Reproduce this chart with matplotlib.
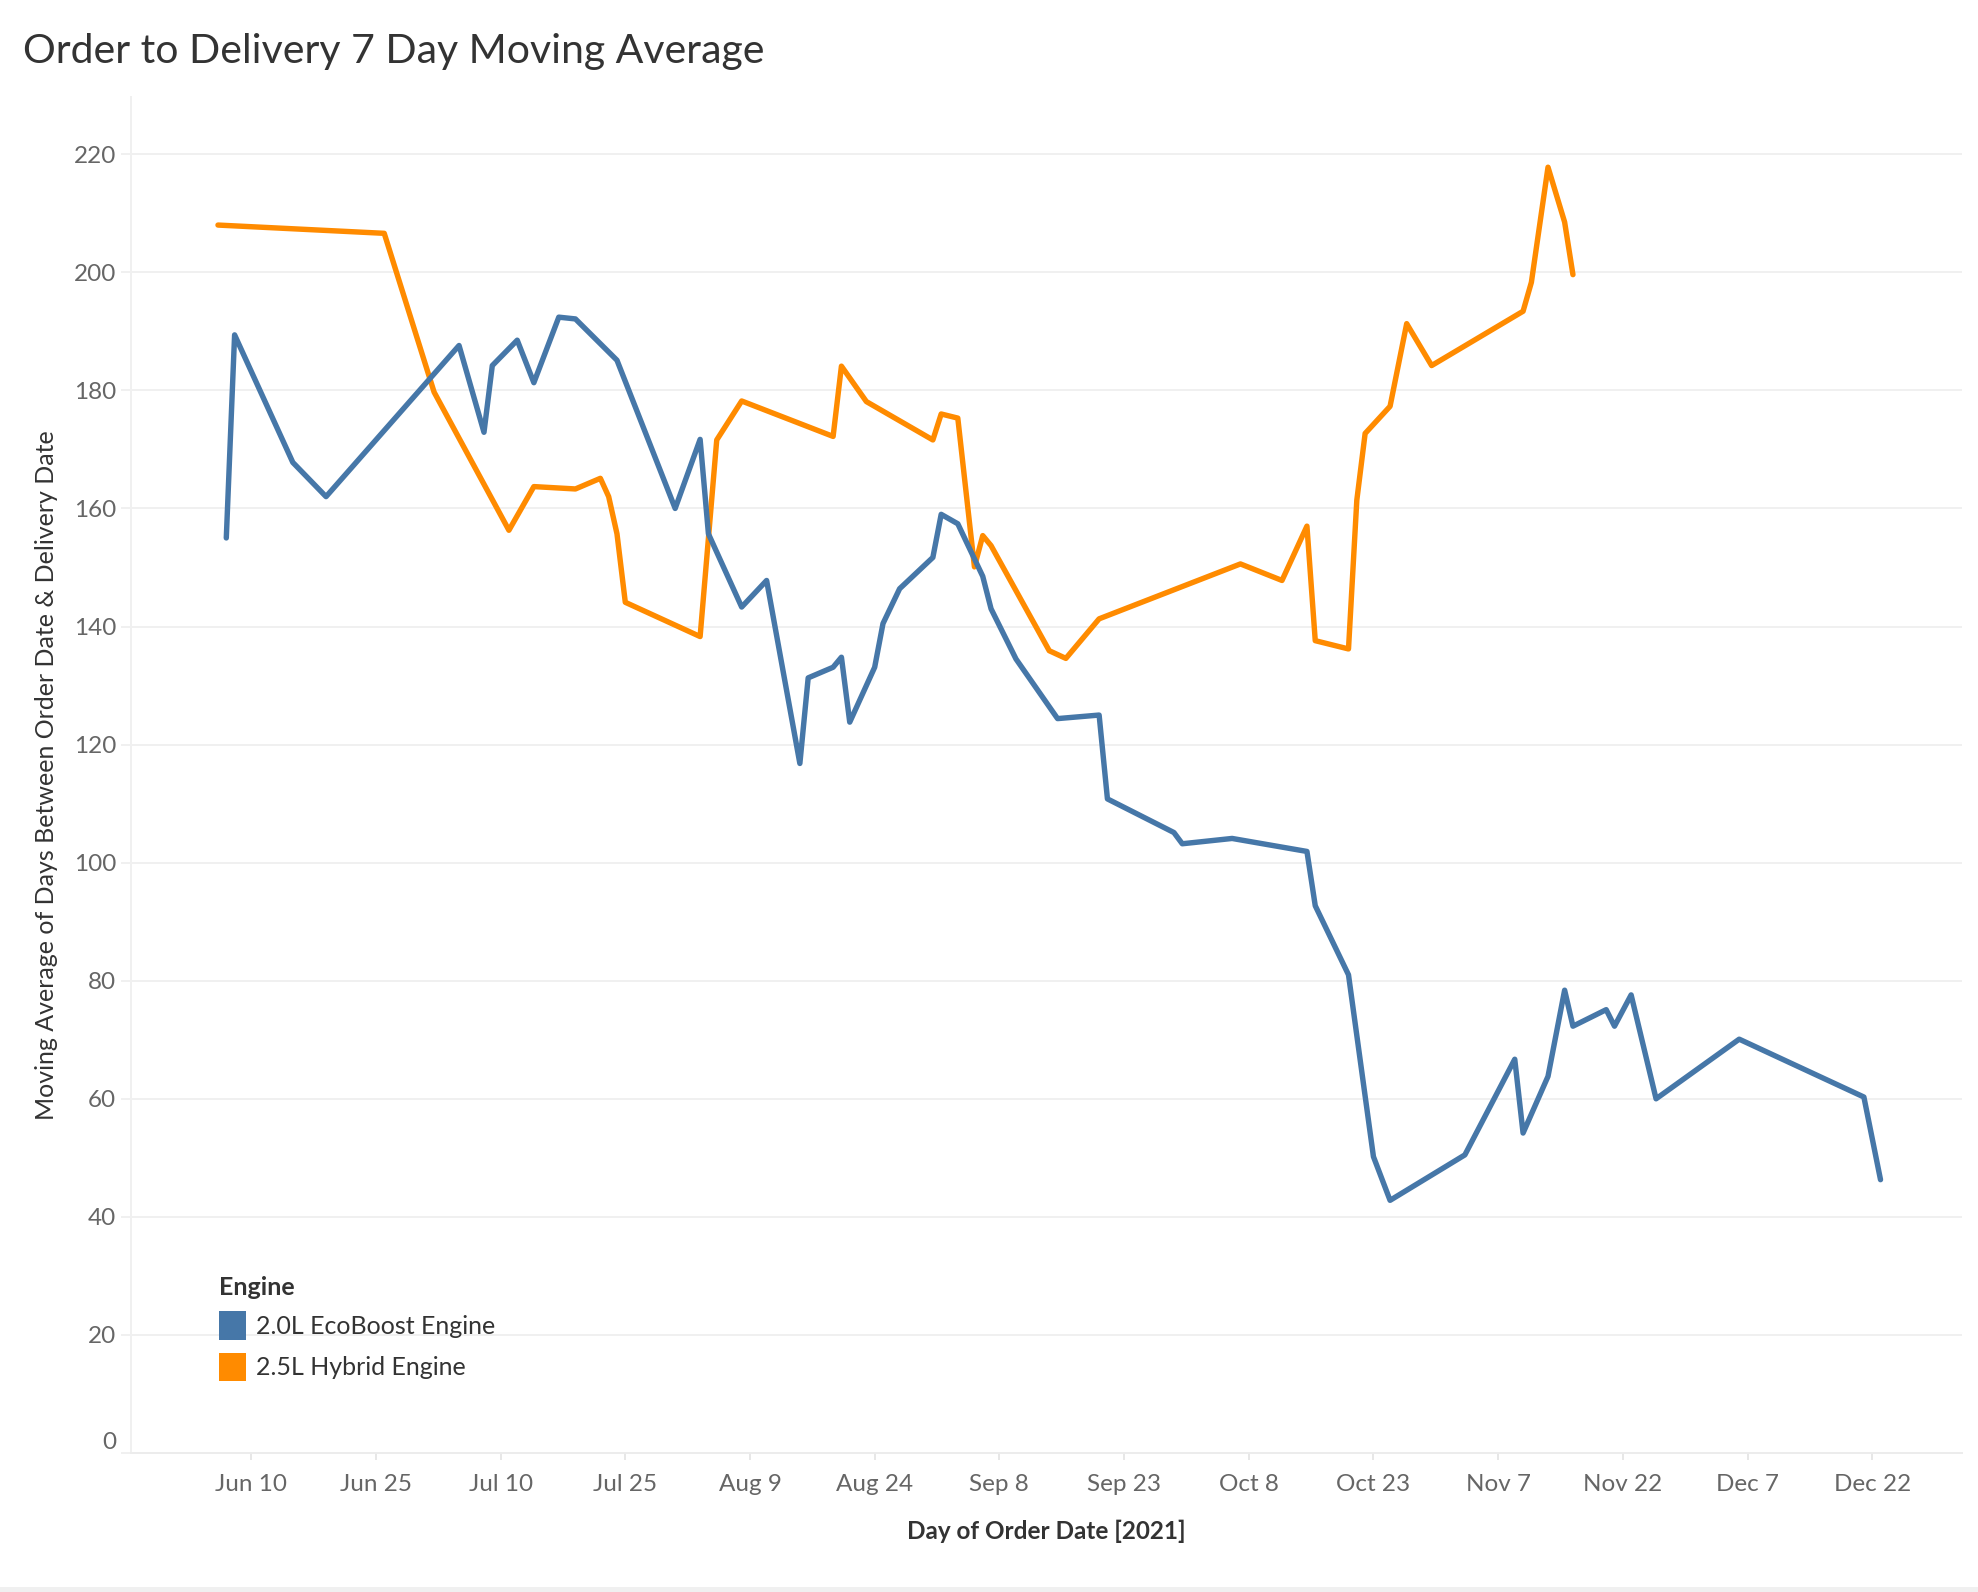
import matplotlib
matplotlib.use('Agg')
import matplotlib.pyplot as plt
import matplotlib.dates as mdates
from matplotlib.patches import Patch, Rectangle
import pandas as pd

plt.rcParams['font.family'] = ['Lato', 'DejaVu Sans']

# 7 day moving average
eco_dates = ['2021-06-07', '2021-06-08', '2021-06-15', '2021-06-19', '2021-07-05', '2021-07-08',
             '2021-07-09', '2021-07-12', '2021-07-14', '2021-07-17', '2021-07-19', '2021-07-24',
             '2021-07-31', '2021-08-03', '2021-08-04', '2021-08-08', '2021-08-11', '2021-08-15',
             '2021-08-16', '2021-08-19', '2021-08-20', '2021-08-21', '2021-08-24', '2021-08-25',
             '2021-08-27', '2021-08-31', '2021-09-01', '2021-09-03', '2021-09-06', '2021-09-07',
             '2021-09-10', '2021-09-15', '2021-09-20', '2021-09-21', '2021-09-29', '2021-09-30',
             '2021-10-06', '2021-10-15', '2021-10-16', '2021-10-20', '2021-10-23', '2021-10-25',
             '2021-11-03', '2021-11-09', '2021-11-10', '2021-11-13', '2021-11-15', '2021-11-16',
             '2021-11-20', '2021-11-21', '2021-11-23', '2021-11-26', '2021-12-06', '2021-12-21',
             '2021-12-23']
eco_values = [155.0, 189.4, 167.8, 162.0, 187.6, 172.9,
              184.2, 188.5, 181.3, 192.4, 192.1, 185.1,
              160.0, 171.7, 155.7, 143.3, 147.8, 116.8,
              131.3, 133.1, 134.8, 123.8, 133.1, 140.5,
              146.4, 151.7, 159.0, 157.4, 148.5, 143.0,
              134.5, 124.4, 125.0, 110.8, 105.1, 103.2,
              104.1, 101.9, 92.7, 81.0, 50.2, 42.8,
              50.5, 66.7, 54.2, 63.8, 78.4, 72.3,
              75.1, 72.3, 77.6, 60.0, 70.1, 60.3,
              46.3]

hyb_dates = ['2021-06-06', '2021-06-26', '2021-07-02', '2021-07-11', '2021-07-14', '2021-07-19',
             '2021-07-22', '2021-07-23', '2021-07-24', '2021-07-25', '2021-08-03', '2021-08-05',
             '2021-08-08', '2021-08-19', '2021-08-20', '2021-08-23', '2021-08-31', '2021-09-01',
             '2021-09-03', '2021-09-05', '2021-09-06', '2021-09-07', '2021-09-14', '2021-09-16',
             '2021-09-20', '2021-10-07', '2021-10-12', '2021-10-15', '2021-10-16', '2021-10-20',
             '2021-10-21', '2021-10-22', '2021-10-25', '2021-10-27', '2021-10-30', '2021-11-10',
             '2021-11-11', '2021-11-13', '2021-11-15', '2021-11-16']
hyb_values = [208.0, 206.6, 179.7, 156.3, 163.7, 163.3,
              165.1, 162.0, 155.7, 144.1, 138.3, 171.6,
              178.2, 172.2, 184.1, 178.1, 171.6, 176.0,
              175.3, 150.1, 155.4, 153.7, 135.9, 134.6,
              141.3, 150.6, 147.8, 157.0, 137.6, 136.2,
              161.4, 172.7, 177.3, 191.3, 184.2, 193.4,
              198.3, 217.8, 208.5, 199.6]

series_names = ['2.0L EcoBoost Engine', '2.5L Hybrid Engine']
series_colors = ['#4677a8', '#ff8b00']
y_ticks = list(range(0, 221, 20))
x_ticks = pd.date_range('2021-06-10', periods=14, freq='15D')

fig = plt.figure(figsize=(19.78, 15.92), dpi=100)
ax = fig.add_axes([0.0662, 0.0873, 0.9257, 0.8518])

ax.plot(pd.to_datetime(hyb_dates), hyb_values, color=series_colors[1], lw=3.9,
        solid_joinstyle='round', solid_capstyle='round', zorder=3)
ax.plot(pd.to_datetime(eco_dates), eco_values, color=series_colors[0], lw=3.9,
        solid_joinstyle='round', solid_capstyle='round', zorder=4)

# axes ranges
jun10 = mdates.date2num(pd.Timestamp('2021-06-10'))
ax.set_xlim(jun10 - 14.47, jun10 + 205.8)
ax.set_ylim(0, 229.7)

ax.set_yticks(y_ticks)
ax.set_xticks(x_ticks)
ax.set_xticklabels([f"{d:%b} {d.day}" for d in x_ticks])

ax.grid(axis='y', color='#f0f0f0', lw=1.4, zorder=0)
ax.set_axisbelow(True)
for s in ['top', 'right']:
    ax.spines[s].set_visible(False)
ax.spines['left'].set_color('#f0f0f0')
ax.spines['left'].set_linewidth(1.4)
ax.spines['bottom'].set_color('#ececec')
ax.spines['bottom'].set_linewidth(1.4)

ax.tick_params(axis='x', length=5, width=1.2, color='#e3e3e3', pad=10,
               labelsize=17.5, labelcolor='#666666')
ax.tick_params(axis='y', length=7, width=1.4, color='#f0f0f0', pad=3.6,
               labelsize=17.5, labelcolor='#666666')
# the zero label sits just above the axis line
ax.get_yticklabels()[0].set_verticalalignment('bottom')

ax.text(-0.0459, 0.5, 'Moving Average of Days Between Order Date & Delivery Date',
        transform=ax.transAxes, rotation=90, ha='center', va='center',
        fontsize=18, color='#333333')
ax.text(0.5, -0.0575, 'Day of Order Date [2021]', transform=ax.transAxes,
        ha='center', va='center', fontsize=17.5, fontweight='bold', color='#333333')

fig.text(23 / 1978, 1 - 63 / 1592, 'Order to Delivery 7 Day Moving Average',
         fontsize=29.5, color='#333333', ha='left', va='baseline')

handles = [Patch(facecolor=c, edgecolor='none') for c in series_colors]
leg = ax.legend(handles, series_names, title='Engine', loc='upper left',
                bbox_to_anchor=(0.041, 0.14), frameon=False, fontsize=18,
                title_fontproperties={'size': 18, 'weight': 'bold'},
                handlelength=1.1, handleheight=1.4, handletextpad=0.4,
                labelspacing=0.5, borderpad=0, alignment='left')
leg.get_title().set_color('#333333')
for t in leg.get_texts():
    t.set_color('#333333')

fig.patches.append(Rectangle((0, 0), 1, 5 / 1592, transform=fig.transFigure,
                             facecolor='#f0f0f0', edgecolor='none'))

fig.savefig('out.png', dpi=100, facecolor='white')
